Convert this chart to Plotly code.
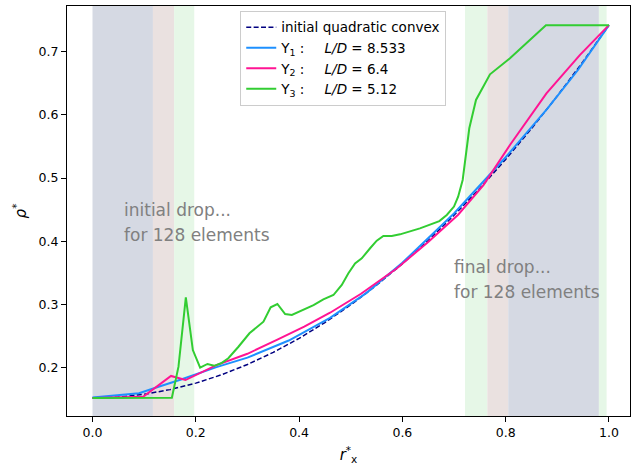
import plotly.graph_objects as go

# ---- data ----
x_quad = [0.0, 0.05, 0.1, 0.15, 0.2, 0.25, 0.3, 0.35, 0.4, 0.45, 0.5,
          0.55, 0.6, 0.65, 0.7, 0.75, 0.8, 0.85, 0.9, 0.95, 1.0]
y_quad = [0.152, 0.1535, 0.1579, 0.1653, 0.1756, 0.1889, 0.2051, 0.2243, 0.2464, 0.2715, 0.2995,
          0.3305, 0.3644, 0.4013, 0.4411, 0.4839, 0.5296, 0.5783, 0.6299, 0.6845, 0.742]

x_y1 = [0.0, 0.05, 0.09, 0.125, 0.17, 0.24, 0.3, 0.38, 0.46, 0.53, 0.6, 0.7, 0.8, 0.88, 0.94, 1.0]
y_y1 = [0.153, 0.156, 0.1595, 0.169, 0.181, 0.201, 0.216, 0.243, 0.279, 0.318, 0.366, 0.444, 0.533, 0.609, 0.671, 0.742]

x_y2 = [0.0, 0.098, 0.152, 0.18, 0.24, 0.3, 0.357, 0.41, 0.46, 0.52, 0.589, 0.65, 0.708,
        0.757, 0.808, 0.879, 0.944, 1.0]
y_y2 = [0.152, 0.154, 0.187, 0.1805, 0.204, 0.222, 0.244, 0.265, 0.287, 0.317, 0.357, 0.399, 0.442,
        0.489, 0.552, 0.634, 0.695, 0.742]

x_y3 = [0.0, 0.1537, 0.1665, 0.1807, 0.1943, 0.2084, 0.2226, 0.2355, 0.249, 0.263, 0.2826,
        0.3039, 0.331, 0.345, 0.358, 0.373, 0.386, 0.402, 0.428, 0.447, 0.4665, 0.4827,
        0.4955, 0.5084, 0.5214, 0.5375, 0.5504, 0.5632, 0.5794, 0.5955, 0.634, 0.6716,
        0.686, 0.700, 0.708, 0.7168, 0.7232, 0.7296, 0.7426, 0.7697, 0.8084, 0.8438,
        0.878, 1.0]
y_y3 = [0.152, 0.1525, 0.2016, 0.3114, 0.228, 0.200, 0.2059, 0.203, 0.207, 0.215, 0.2332,
        0.2544, 0.2728, 0.2955, 0.3008, 0.285, 0.2834, 0.2897, 0.299, 0.308, 0.315, 0.331,
        0.3494, 0.365, 0.373, 0.389, 0.401, 0.4084, 0.4084, 0.411, 0.4205, 0.432,
        0.4416, 0.455, 0.4706, 0.497, 0.5366, 0.5788, 0.6236, 0.6642, 0.6895, 0.7158,
        0.742, 0.742]

# shaded spans: (start, end, kind)
span_start = [0.0, 0.117, 0.158, 0.7213, 0.7645, 0.805, 0.9806]
span_end = [0.117, 0.158, 0.197, 0.7645, 0.805, 0.9806, 0.9955]
span_kind = ["blue", "red", "green", "green", "red", "blue", "green"]

x_ticks = [0.0, 0.2, 0.4, 0.6, 0.8, 1.0]
y_ticks = [0.2, 0.3, 0.4, 0.5, 0.6, 0.7]

span_colors = {"blue": "rgb(213,217,227)", "red": "rgb(234,225,224)", "green": "rgb(230,247,231)"}

FONT = "DejaVu Sans"

fig = go.Figure()

fig.add_trace(go.Scatter(x=x_quad, y=y_quad, mode="lines", name="initial quadratic convex",
                         line=dict(color="navy", width=1.5, dash="5px,2.4px")))
fig.add_trace(go.Scatter(x=x_y1, y=y_y1, mode="lines",
                         name="Y<sub>1</sub> :\u2003\u2002<i>L/D</i> = 8.533",
                         line=dict(color="#1e90ff", width=2)))
fig.add_trace(go.Scatter(x=x_y2, y=y_y2, mode="lines",
                         name="Y<sub>2</sub> :\u2003\u2002<i>L/D</i> = 6.4",
                         line=dict(color="#ff1493", width=2)))
fig.add_trace(go.Scatter(x=x_y3, y=y_y3, mode="lines",
                         name="Y<sub>3</sub> :\u2003\u2002<i>L/D</i> = 5.12",
                         line=dict(color="#32cd32", width=2)))

for s, e, k in zip(span_start, span_end, span_kind):
    fig.add_shape(type="rect", xref="x", yref="paper", x0=s, x1=e, y0=0, y1=1,
                  fillcolor=span_colors[k], line=dict(width=0), layer="below")

ann = [
    (0.06, 0.4495, "initial drop..."),
    (0.06, 0.410, "for 128 elements"),
    (0.70, 0.3593, "final drop..."),
    (0.70, 0.3198, "for 128 elements"),
]
for ax_, ay_, t in ann:
    fig.add_annotation(x=ax_, y=ay_, text=t, showarrow=False, xanchor="left", yanchor="middle",
                       xshift=-2, font=dict(family=FONT, size=17, color="#808080"))

fig.update_layout(
    width=632, height=470,
    margin=dict(l=67, r=2, t=6, b=54),
    plot_bgcolor="white", paper_bgcolor="white",
    font=dict(family=FONT, size=12.5, color="black"),
    showlegend=True,
    legend=dict(x=0.3077, y=0.988, xanchor="left", yanchor="top",
                bgcolor="white", bordercolor="#cccccc", borderwidth=1,
                font=dict(family=FONT, size=13.5), itemwidth=30, tracegroupgap=0),
)
fig.update_xaxes(range=[-0.0494, 1.0408], tickvals=x_ticks, ticktext=[f"{v:.1f}" for v in x_ticks],
                 showgrid=False, zeroline=False, showline=True, linecolor="black", linewidth=1,
                 mirror=True, ticks="outside", ticklen=5, tickcolor="black",
                 title=dict(text="<i>r</i><sup>*</sup><sub>x</sub>", font=dict(size=15), standoff=10))
fig.update_yaxes(range=[0.1236, 0.7723], tickvals=y_ticks, ticktext=[f"{v:.1f}" for v in y_ticks],
                 showgrid=False, zeroline=False, showline=True, linecolor="black", linewidth=1,
                 mirror=True, ticks="outside", ticklen=5, tickcolor="black",
                 title=dict(text="<i>ρ</i><sup>*</sup>", font=dict(size=15), standoff=8))

fig.write_html("out.html")
